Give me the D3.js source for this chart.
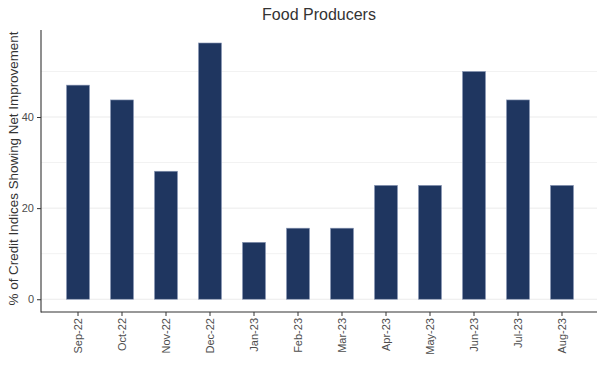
<!DOCTYPE html>
<html>
<head>
<meta charset="utf-8">
<script src="https://cdn.jsdelivr.net/npm/d3@7"></script>
<style>
  body { margin: 0; background: #fff; }
  svg { font-family: "Liberation Sans", Arial, sans-serif; }
</style>
</head>
<body>
<svg id="chart" width="605" height="378"></svg>
<script>
var months = ["Sep-22", "Oct-22", "Nov-22", "Dec-22", "Jan-23", "Feb-23",
              "Mar-23", "Apr-23", "May-23", "Jun-23", "Jul-23", "Aug-23"];
var pctImproving = [47, 43.75, 28.1, 56.25, 12.5, 15.6,
                    15.6, 25, 25, 50, 43.75, 25];
var yTicks = [0, 20, 40];
var yGrid = [0, 10, 20, 30, 40, 50];

var svg = d3.select("#chart"),
    plotLeft = 41, plotRight = 597,
    plotTop = 30, plotBottom = 312;

var xScale = d3.scaleBand().domain(months).range([56, 584])
      .paddingInner(0.477).paddingOuter(0.2385),
    yScale = d3.scaleLinear().domain([-2.8, 59.1]).range([plotBottom, plotTop]);

// gridlines
svg.append("g")
  .selectAll("line")
  .data(yGrid)
  .enter()
  .append("line")
  .attr("x1", plotLeft)
  .attr("x2", plotRight)
  .attr("y1", function (d) { return yScale(d); })
  .attr("y2", function (d) { return yScale(d); })
  .style("stroke", function (d) { return d % 20 == 0 ? "#ebebeb" : "#f2f2f2"; })
  .style("stroke-width", 1);

// bars
svg.append("g")
  .selectAll("rect")
  .data(pctImproving)
  .enter()
  .append("rect")
  .attr("x", function (d, i) { return xScale(months[i]); })
  .attr("width", xScale.bandwidth())
  .attr("y", function (d) { return yScale(d); })
  .attr("height", function (d) { return yScale(0) - yScale(d); })
  .style("fill", "#1f3660")
  .style("stroke", "#8d9bb8")
  .style("stroke-width", 0.6);

// axes
var xAxis = svg.append("g")
  .attr("transform", "translate(0," + plotBottom + ")")
  .call(d3.axisBottom(xScale).tickSizeOuter(0).tickSize(4).tickPadding(3));
xAxis.select(".domain").remove();
xAxis.selectAll("text")
  .attr("transform", "rotate(-90)")
  .attr("text-anchor", "end")
  .attr("x", -6)
  .attr("y", 0)
  .attr("dy", "0.35em")
  .style("font-size", "11px")
  .style("fill", "#4d4d4d");

var yAxis = svg.append("g")
  .attr("transform", "translate(" + plotLeft + ",0)")
  .call(d3.axisLeft(yScale).tickValues(yTicks).tickSizeOuter(0).tickSize(4).tickPadding(3));
yAxis.select(".domain").remove();
yAxis.selectAll("text")
  .style("font-size", "11px")
  .style("fill", "#4d4d4d");

svg.selectAll(".tick line").style("stroke", "#333");

svg.append("line")
  .attr("x1", plotLeft).attr("x2", plotLeft)
  .attr("y1", plotTop).attr("y2", plotBottom + 0.5)
  .style("stroke", "#333").style("stroke-width", 1.1);
svg.append("line")
  .attr("x1", plotLeft).attr("x2", plotRight)
  .attr("y1", plotBottom).attr("y2", plotBottom)
  .style("stroke", "#333").style("stroke-width", 1.1);

// title
svg.append("text")
  .attr("x", 319)
  .attr("y", 20)
  .attr("text-anchor", "middle")
  .style("font-size", "16px")
  .style("fill", "#333")
  .text("Food Producers");

// y label
svg.append("text")
  .attr("text-anchor", "middle")
  .attr("transform", "translate(18," + 168.5 + ")rotate(-90)")
  .style("font-size", "13.4px")
  .style("fill", "#333")
  .text("% of Credit Indices Showing Net Improvement");
</script>
</body>
</html>
